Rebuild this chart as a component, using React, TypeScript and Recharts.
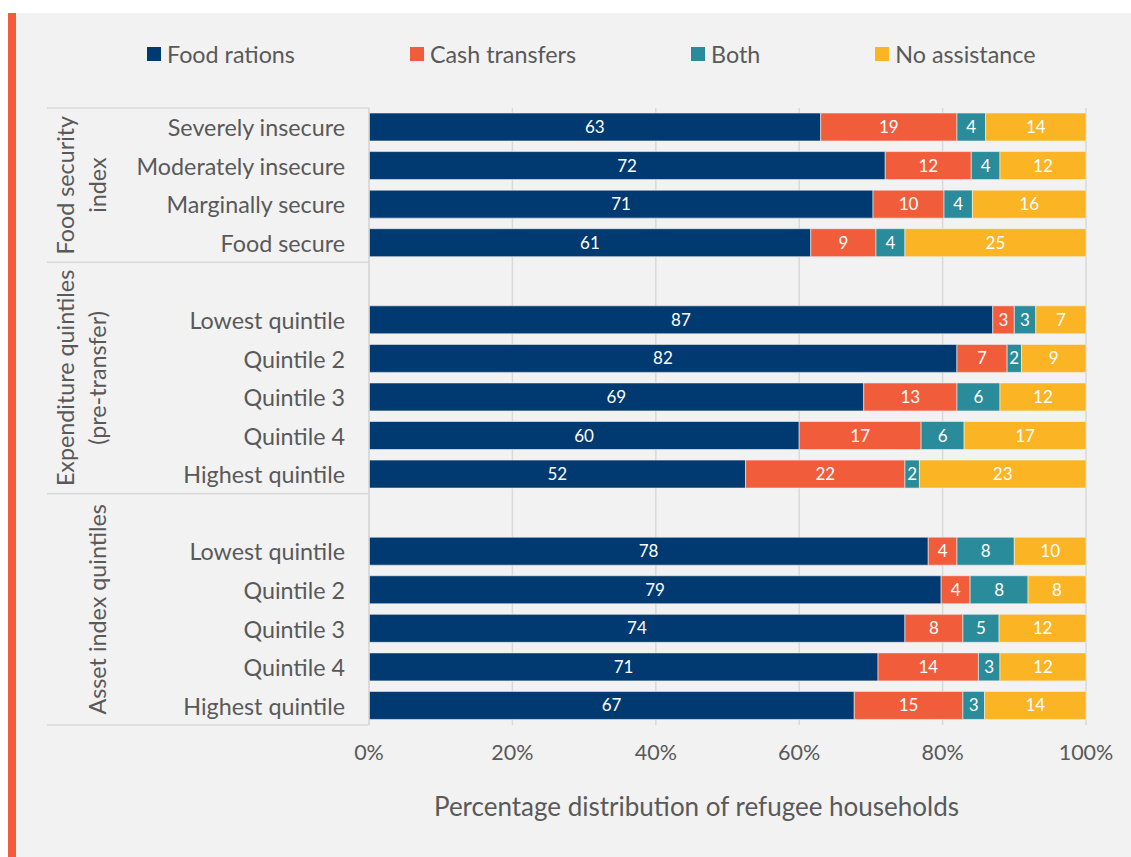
import React from 'react';
import { BarChart, Bar, XAxis, YAxis, CartesianGrid, Legend, LabelList } from 'recharts';

// row labels, '' = spacer row between groups
const rowLabels = [
  'Severely insecure', 'Moderately insecure', 'Marginally secure', 'Food secure',
  '', 'Lowest quintile', 'Quintile 2', 'Quintile 3', 'Quintile 4', 'Highest quintile',
  '', 'Lowest quintile', 'Quintile 2', 'Quintile 3', 'Quintile 4', 'Highest quintile',
];

// group titles (lines) and how many rows each group spans
const groupTitles = [['Food security', 'index'], ['Expenditure quintiles', '(pre-transfer)'], ['Asset index quintiles']];
const groupSizes = [4, 6, 6];

const foodRations = [63, 72, 71, 61, 0, 87, 82, 69, 60, 52, 0, 78, 79, 74, 71, 67];
const cashTransfers = [19, 12, 10, 9, 0, 3, 7, 13, 17, 22, 0, 4, 4, 8, 14, 15];
const both = [4, 4, 4, 4, 0, 3, 2, 6, 6, 2, 0, 8, 8, 5, 3, 3];
const noAssistance = [14, 12, 16, 25, 0, 7, 9, 12, 17, 23, 0, 10, 8, 12, 12, 14];

const xTicks = [0, 0.2, 0.4, 0.6, 0.8, 1];

const series = [
  { key: 'food', name: 'Food rations', color: '#003A70' },
  { key: 'cash', name: 'Cash transfers', color: '#F15D3B' },
  { key: 'both', name: 'Both', color: '#2A8B9A' },
  { key: 'none', name: 'No assistance', color: '#FBB424' },
];

const data = rowLabels.map((label, i) => ({
  row: i,
  label,
  food: foodRations[i],
  cash: cashTransfers[i],
  both: both[i],
  none: noAssistance[i],
}));

const W = 1131;
const H = 857;
const AXIS_X = 369;
const TEXT = '#595959';
const LINE = '#d9d9d9';
const FONT = 'Lato, sans-serif';

// first row index of each group
const groupStarts = groupSizes.map((_, g) => groupSizes.slice(0, g).reduce((a, b) => a + b, 0));

const CategoryTick = (props: any) => {
  const { y, payload } = props;
  const i = Number(payload.value);
  const half = payload.offset || 19.3;
  const g = groupStarts.indexOf(i);
  return (
    <g>
      {rowLabels[i] ? (
        <text x={AXIS_X - 24} y={y} textAnchor="end" dominantBaseline="central" fill={TEXT} fontSize={23.3} fontFamily={FONT}>
          {rowLabels[i]}
        </text>
      ) : null}
      {g >= 0 ? (
        <g>
          <line x1={47} x2={AXIS_X} y1={y - half} y2={y - half} stroke={LINE} strokeWidth={1.5} />
          {groupTitles[g].map((t, k) => {
            const n = groupTitles[g].length;
            const lx = 97 - (n - 1 - k) * 32;
            const cy = y - half + groupSizes[g] * half;
            return (
              <text key={k} x={lx} y={cy} transform={`rotate(-90 ${lx} ${cy})`} textAnchor="middle" dominantBaseline="central" fill={TEXT} fontSize={23.3} fontFamily={FONT}>
                {t}
              </text>
            );
          })}
        </g>
      ) : null}
      {i === rowLabels.length - 1 ? (
        <line x1={47} x2={AXIS_X} y1={y + half} y2={y + half} stroke={LINE} strokeWidth={1.5} />
      ) : null}
    </g>
  );
};

const LegendContent = () => (
  <div style={{ display: 'flex', alignItems: 'center', gap: 115, paddingLeft: 147, fontFamily: FONT, fontSize: 23.3, color: TEXT, height: 28 }}>
    {series.map((s) => (
      <div key={s.key} style={{ display: 'flex', alignItems: 'center', gap: 6 }}>
        <span style={{ width: 14, height: 14, background: s.color, display: 'inline-block' }} />
        <span>{s.name}</span>
      </div>
    ))}
  </div>
);

const AxisTitle = (props: any) => {
  const vb = props.viewBox || {};
  return (
    <text x={vb.x + vb.width / 2 - 31} y={vb.y + 81} textAnchor="middle" dominantBaseline="central" fill={TEXT} fontSize={26} fontFamily={FONT}>
      Percentage distribution of refugee households
    </text>
  );
};

export default function App() {
  return (
    <div style={{ position: 'absolute', left: 0, top: 0, width: W, height: H, background: '#fff', overflow: 'hidden' }}>
      <div style={{ position: 'absolute', left: 8, top: 13, width: 8, height: H - 13, background: '#F15D3B' }} />
      <div style={{ position: 'absolute', left: 16, top: 13, width: W - 16, height: H - 13, background: '#f2f2f2' }} />
      <div style={{ position: 'absolute', left: 0, top: 0 }}>
        <BarChart
          width={W}
          height={H}
          data={data}
          layout="vertical"
          stackOffset="expand"
          barSize={28}
          margin={{ top: 108, right: 45, bottom: 72, left: 0 }}
        >
          <CartesianGrid horizontal={false} stroke={LINE} strokeWidth={1.5} />
          <XAxis
            type="number"
            domain={[0, 1]}
            ticks={xTicks}
            tickFormatter={(v) => `${Math.round(v * 100)}%`}
            axisLine={false}
            tickLine={false}
            height={60}
            tickMargin={14}
            tick={{ fill: TEXT, fontSize: 21.5, fontFamily: FONT }}
            label={<AxisTitle />}
          />
          <YAxis
            type="category"
            dataKey="row"
            width={AXIS_X}
            interval={0}
            tickLine={false}
            axisLine={{ stroke: LINE, strokeWidth: 1.5 }}
            tick={<CategoryTick />}
          />
          <Legend layout="horizontal" verticalAlign="middle" align="center" wrapperStyle={{ top: 40, left: 0, width: W, height: 28 }} content={<LegendContent />} />
          {series.map((s) => (
            <Bar key={s.key} dataKey={s.key} name={s.name} stackId="a" fill={s.color} stroke="#f2f2f2" strokeWidth={0.6} isAnimationActive={false}>
              <LabelList
                dataKey={s.key}
                position="center"
                fill="#fff"
                fontSize={17}
                fontFamily={FONT}
                formatter={(v: any) => (v ? v : '')}
              />
            </Bar>
          ))}
        </BarChart>
      </div>
    </div>
  );
}
